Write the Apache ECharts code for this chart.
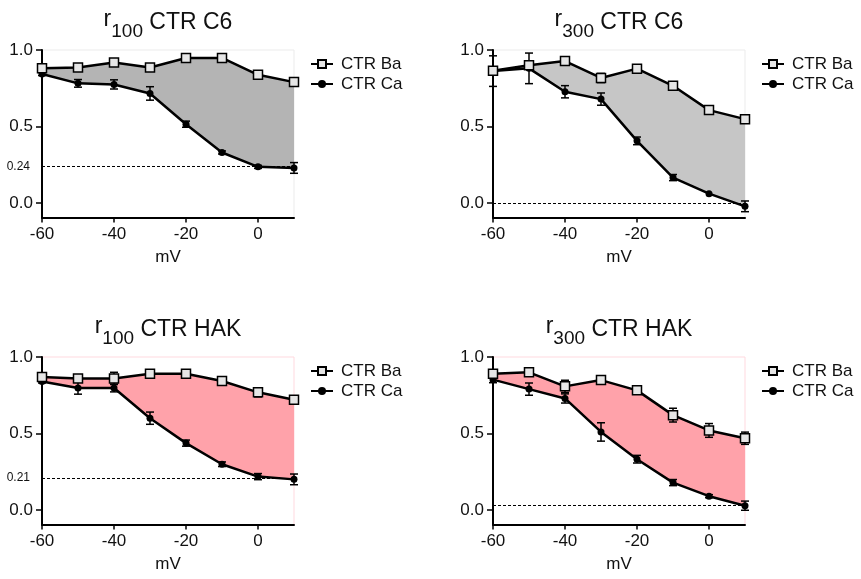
<!DOCTYPE html>
<html>
<head>
<meta charset="utf-8">
<script src="https://cdn.jsdelivr.net/npm/echarts@6/dist/echarts.min.js"></script>
<style>
html,body{margin:0;padding:0;background:#fff;}
#chart{width:861px;height:579px;}
</style>
</head>
<body>
<div id="chart"></div>
<script>
// ---- data ----
const mV = [-60, -50, -40, -30, -20, -10, 0, 10];
const xTicks = [-60, -40, -20, 0];
const yTicks = [0, 0.5, 1.0];

// Panel 1: r100 CTR C6
const p1Ba    = [0.880, 0.886, 0.919, 0.886, 0.948, 0.948, 0.838, 0.790];
const p1BaErr = [0, 0.015, 0.012, 0, 0, 0, 0, 0];
const p1Ca    = [0.843, 0.782, 0.775, 0.716, 0.515, 0.330, 0.236, 0.229];
const p1CaErr = [0.01, 0.025, 0.03, 0.044, 0.02, 0.01, 0.01, 0.035];
const p1Ref = 0.24;

// Panel 2: r300 CTR C6
const p2Ba    = [0.865, 0.900, 0.928, 0.817, 0.878, 0.766, 0.607, 0.548];
const p2BaErr = [0, 0.02, 0.015, 0.03, 0.025, 0.01, 0.01, 0.01];
const p2Ca    = [0.862, 0.880, 0.727, 0.679, 0.406, 0.166, 0.061, -0.022];
const p2CaErr = [0.1, 0.1, 0.04, 0.04, 0.025, 0.02, 0, 0.035];
const p2Ref = 0.0;

// Panel 3: r100 CTR HAK
const p3Ba    = [0.869, 0.860, 0.860, 0.891, 0.891, 0.843, 0.769, 0.720];
const p3BaErr = [0.01, 0.02, 0.04, 0.01, 0.01, 0.02, 0.03, 0.02];
const p3Ca    = [0.840, 0.797, 0.797, 0.600, 0.437, 0.299, 0.218, 0.200];
const p3CaErr = [0.01, 0.04, 0.025, 0.04, 0.02, 0.015, 0.02, 0.035];
const p3Ref = 0.21;

// Panel 4: r300 CTR HAK
const p4Ba    = [0.891, 0.900, 0.808, 0.849, 0.782, 0.620, 0.520, 0.469];
const p4BaErr = [0.01, 0.01, 0.04, 0.01, 0.015, 0.045, 0.045, 0.04];
const p4Ca    = [0.852, 0.790, 0.729, 0.510, 0.332, 0.179, 0.090, 0.028];
const p4CaErr = [0.02, 0.04, 0.03, 0.06, 0.025, 0.02, 0.01, 0.03];
const p4Ref = 0.03;

const titleSubs  = ['100', '300', '100', '300'];
const titleMains = [' CTR C6', ' CTR C6', ' CTR HAK', ' CTR HAK'];
const legendNames = ['CTR Ba', 'CTR Ca'];
const xName = 'mV';

// ---- layout / style ----
const FONT = '"Liberation Sans", Arial, Helvetica, sans-serif';
const TXT = '#111';
const panels = [
  {Ba: p1Ba, BaErr: p1BaErr, Ca: p1Ca, CaErr: p1CaErr, ref: p1Ref, refLabel: true,  fill: '#b4b4b4', border: '#ebebeb', left: 42,  top: 50},
  {Ba: p2Ba, BaErr: p2BaErr, Ca: p2Ca, CaErr: p2CaErr, ref: p2Ref, refLabel: false, fill: '#c6c6c6', border: '#ebebeb', left: 493, top: 50},
  {Ba: p3Ba, BaErr: p3BaErr, Ca: p3Ca, CaErr: p3CaErr, ref: p3Ref, refLabel: true,  fill: '#ffa2aa', border: '#ffd9df', left: 42,  top: 357},
  {Ba: p4Ba, BaErr: p4BaErr, Ca: p4Ca, CaErr: p4CaErr, ref: p4Ref, refLabel: false, fill: '#ffa2aa', border: '#ffd9df', left: 493, top: 357}
];
const GW = 252, GH = 167.5;

const grid = [], xAxis = [], yAxis = [], series = [], title = [], legend = [];

function errRender(params, api) {
  const x = api.value(0), y = api.value(1), e = api.value(2);
  if (!e) return null;
  const t = api.coord([x, y + e]);
  const b = api.coord([x, y - e]);
  const hw = 4;
  const st = {stroke: '#000', lineWidth: 1.5};
  return {
    type: 'group',
    children: [
      {type: 'line', shape: {x1: t[0], y1: t[1], x2: b[0], y2: b[1]}, style: st},
      {type: 'line', shape: {x1: t[0] - hw, y1: t[1], x2: t[0] + hw, y2: t[1]}, style: st},
      {type: 'line', shape: {x1: b[0] - hw, y1: b[1], x2: b[0] + hw, y2: b[1]}, style: st}
    ]
  };
}

function fillRenderFactory(color) {
  return function (params, api) {
    if (params.dataIndexInside !== 0) return null;
    const n = params.dataInsideLength;
    const upper = [], lower = [];
    for (let k = 0; k < n; k++) {
      const x = api.value(0, k);
      upper.push(api.coord([x, api.value(1, k)]));
      lower.unshift(api.coord([x, api.value(2, k)]));
    }
    return {type: 'polygon', shape: {points: upper.concat(lower)}, style: {fill: color, stroke: null}};
  };
}

const tStyle = (fs, pb) => ({fontSize: fs, lineHeight: fs, fontFamily: FONT, fontWeight: 'normal', color: TXT,
  verticalAlign: 'bottom', padding: [0, 0, pb, 0]});

panels.forEach((p, i) => {
  grid.push({left: p.left, top: p.top, width: GW, height: GH, show: true,
    borderColor: p.border, borderWidth: 1, backgroundColor: 'transparent'});

  xAxis.push({
    gridIndex: i, type: 'value', min: -60, max: 10,
    axisLine: {show: true, onZero: false, lineStyle: {color: '#000', width: 2}},
    axisTick: {show: true, customValues: xTicks, length: 5, lineStyle: {color: '#000', width: 1.5}},
    axisLabel: {customValues: xTicks, fontSize: 17, color: TXT, fontFamily: FONT, margin: 8},
    splitLine: {show: false},
    name: xName, nameLocation: 'middle', nameGap: 31,
    nameTextStyle: {fontSize: 17, color: TXT, fontFamily: FONT}
  });

  const labelVals = p.refLabel ? yTicks.concat([p.ref]) : yTicks;
  yAxis.push({
    gridIndex: i, type: 'value', min: -0.095, max: 1.0,
    axisLine: {show: true, onZero: false, lineStyle: {color: '#000', width: 2}},
    axisTick: {show: true, customValues: yTicks, length: 6, lineStyle: {color: '#000', width: 1.5}},
    axisLabel: {
      customValues: labelVals, fontSize: 17, color: TXT, fontFamily: FONT, margin: 9,
      formatter: (v) => (p.refLabel && Math.abs(v - p.ref) < 1e-9) ? '{s|' + p.ref.toFixed(2) + '}' : v.toFixed(1),
      rich: {s: {fontSize: 12, color: TXT, fontFamily: FONT, padding: [0, 3, 0, 0]}}
    },
    splitLine: {show: false}
  });

  title.push({
    text: '{r|r}{s|' + titleSubs[i] + '}{m|' + titleMains[i] + '}',
    left: p.left + GW / 2, textAlign: 'center', top: p.top - 32, padding: 0,
    textStyle: {
      fontWeight: 'normal',
      rich: {r: tStyle(23, 10), s: tStyle(19, 0), m: tStyle(23, 7)}
    }
  });

  legend.push({
    data: legendNames, orient: 'vertical', left: p.left + GW + 16, top: p.top + 4,
    padding: 0, itemGap: 0, itemWidth: 22, itemHeight: 10,
    textStyle: {fontSize: 17, color: TXT, fontFamily: FONT, lineHeight: 20, padding: [0, 0, 0, 3]},
    selectedMode: false
  });

  series.push({
    name: 'fill' + i, type: 'custom', xAxisIndex: i, yAxisIndex: i, renderItem: fillRenderFactory(p.fill),
    data: mV.map((x, k) => [x, p.Ba[k], p.Ca[k]]), encode: {x: 0, y: [1, 2]}, z: 1, silent: true
  });
  series.push({
    name: 'ref' + i, type: 'line', xAxisIndex: i, yAxisIndex: i, data: [], silent: true, z: 2,
    markLine: {silent: true, symbol: ['none', 'none'], label: {show: false},
      lineStyle: {color: '#000', width: 1.2, type: [3, 2]}, data: [{yAxis: p.ref}]}
  });
  series.push({
    name: 'errBa' + i, type: 'custom', xAxisIndex: i, yAxisIndex: i, renderItem: errRender,
    data: mV.map((x, k) => [x, p.Ba[k], p.BaErr[k]]), encode: {x: 0, y: 1}, z: 3, silent: true
  });
  series.push({
    name: 'errCa' + i, type: 'custom', xAxisIndex: i, yAxisIndex: i, renderItem: errRender,
    data: mV.map((x, k) => [x, p.Ca[k], p.CaErr[k]]), encode: {x: 0, y: 1}, z: 3, silent: true
  });
  series.push({
    name: 'CTR Ca', type: 'line', xAxisIndex: i, yAxisIndex: i,
    data: mV.map((x, k) => [x, p.Ca[k]]), symbol: 'circle', symbolSize: 7,
    lineStyle: {color: '#000', width: 2.5}, itemStyle: {color: '#000'}, z: 4
  });
  series.push({
    name: 'CTR Ba', type: 'line', xAxisIndex: i, yAxisIndex: i,
    data: mV.map((x, k) => [x, p.Ba[k]]), symbol: 'rect', symbolSize: 9,
    lineStyle: {color: '#000', width: 2.5}, itemStyle: {color: '#e6e6e6', borderColor: '#000', borderWidth: 1.5}, z: 5
  });
});

const chart = echarts.init(document.getElementById('chart'), null, {renderer: 'canvas'});
chart.setOption({
  animation: false,
  backgroundColor: '#fff',
  textStyle: {fontFamily: FONT},
  title, legend, grid, xAxis, yAxis, series
});
</script>
</body>
</html>
